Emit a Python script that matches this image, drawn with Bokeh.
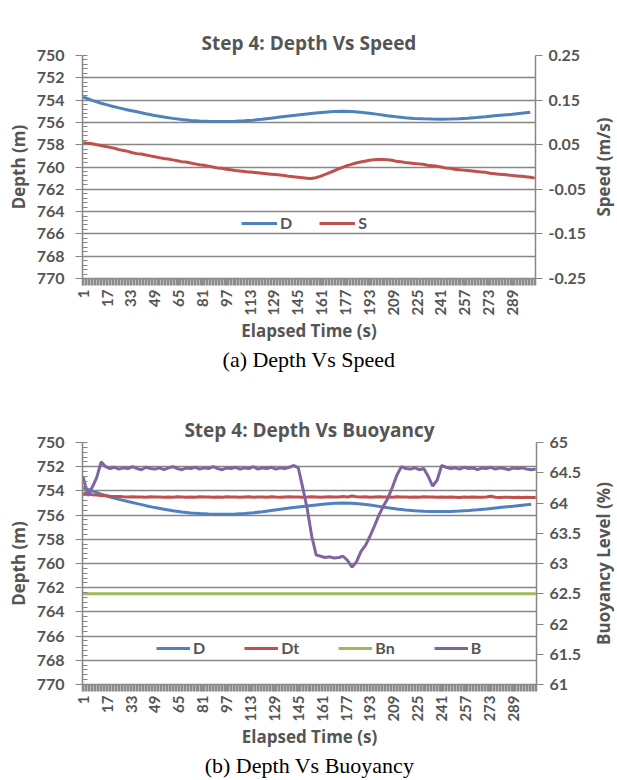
import math
from bokeh.plotting import figure
from bokeh.models import (Range1d, LinearAxis, FixedTicker, NumeralTickFormatter,
                          Legend, LegendItem, Title)
from bokeh.layouts import column, row
from bokeh.embed import file_html
from bokeh.resources import INLINE

# ---- axis definitions -------------------------------------------------------
N_CATEGORIES = 304                       # one category per elapsed second
elapsed_ticks = [1, 17, 33, 49, 65, 81, 97, 113, 129, 145, 161, 177,
                 193, 209, 225, 241, 257, 273, 289]
depth_ticks = [750, 752, 754, 756, 758, 760, 762, 764, 766, 768, 770]
speed_ticks = [-0.25, -0.15, -0.05, 0.05, 0.15, 0.25]
buoyancy_ticks = [61, 61.5, 62, 62.5, 63, 63.5, 64, 64.5, 65]

# ---- series -----------------------------------------------------------------
# depth D (m), sampled every 6 s
d_time = list(range(1, 302, 6))
d_depth = [753.72, 754.02, 754.28, 754.50, 754.70, 754.88, 755.05, 755.22, 755.38, 755.52,
           755.64, 755.74, 755.82, 755.87, 755.90, 755.92, 755.92, 755.90, 755.86, 755.80,
           755.72, 755.62, 755.52, 755.42, 755.33, 755.24, 755.16, 755.08, 755.03, 755.00,
           755.02, 755.08, 755.17, 755.28, 755.40, 755.50, 755.58, 755.64, 755.68, 755.70,
           755.71, 755.70, 755.67, 755.62, 755.56, 755.49, 755.41, 755.34, 755.27, 755.18,
           755.10]

# speed S (m/s), target depth Dt (m), buoyancy B (%) sampled every 3 s
s_time = list(range(1, 305, 3))
s_speed = [0.055, 0.053, 0.052, 0.050, 0.048, 0.046, 0.044, 0.042, 0.039, 0.037,
           0.035, 0.032, 0.030, 0.029, 0.027, 0.025, 0.023, 0.021, 0.019, 0.018,
           0.016, 0.014, 0.012, 0.011, 0.009, 0.007, 0.005, 0.004, 0.002, 0.000,
           -0.002, -0.003, -0.005, -0.006, -0.008, -0.009, -0.010, -0.011, -0.012, -0.013,
           -0.014, -0.015, -0.016, -0.017, -0.018, -0.019, -0.021, -0.022, -0.023, -0.024,
           -0.025, -0.026, -0.024, -0.021, -0.017, -0.013, -0.009, -0.005, -0.001, 0.003,
           0.006, 0.009, 0.011, 0.013, 0.015, 0.016, 0.017, 0.017, 0.016, 0.015,
           0.013, 0.012, 0.010, 0.009, 0.008, 0.007, 0.006, 0.004, 0.003, 0.002,
           0.000, -0.002, -0.003, -0.005, -0.006, -0.007, -0.008, -0.009, -0.010, -0.011,
           -0.012, -0.014, -0.015, -0.016, -0.017, -0.018, -0.019, -0.020, -0.021, -0.022,
           -0.023, -0.025]

dt_time = list(range(1, 305, 3))
dt_depth = [754.20, 754.26, 754.31, 754.34, 754.38, 754.41, 754.44, 754.46, 754.47, 754.49,
            754.50, 754.48, 754.51, 754.50, 754.52, 754.49, 754.51, 754.50, 754.53, 754.50,
            754.52, 754.49, 754.51, 754.53, 754.50, 754.52, 754.48, 754.51, 754.50, 754.52,
            754.50, 754.53, 754.49, 754.51, 754.50, 754.52, 754.50, 754.49, 754.52, 754.51,
            754.50, 754.53, 754.49, 754.51, 754.52, 754.50, 754.49, 754.51, 754.50, 754.52,
            754.51, 754.48, 754.50, 754.52, 754.50, 754.49, 754.51, 754.50, 754.47, 754.50,
            754.42, 754.48, 754.51, 754.49, 754.52, 754.50, 754.48, 754.51, 754.50, 754.52,
            754.49, 754.51, 754.50, 754.53, 754.50, 754.52, 754.49, 754.51, 754.50, 754.52,
            754.51, 754.53, 754.50, 754.52, 754.54, 754.51, 754.53, 754.50, 754.52, 754.53,
            754.51, 754.45, 754.52, 754.54, 754.52, 754.53, 754.55, 754.52, 754.54, 754.53,
            754.55, 754.54]

bn_time = [1, 304]
bn_level = [62.5, 62.5]

b_time = list(range(1, 305, 3))
b_level = [64.43, 64.12, 64.26, 64.42, 64.68, 64.60, 64.57, 64.59, 64.56, 64.58,
           64.57, 64.60, 64.57, 64.55, 64.59, 64.57, 64.56, 64.58, 64.55, 64.58,
           64.60, 64.57, 64.55, 64.58, 64.57, 64.59, 64.56, 64.58, 64.57, 64.60,
           64.57, 64.55, 64.58, 64.57, 64.59, 64.56, 64.58, 64.57, 64.60, 64.56,
           64.58, 64.57, 64.59, 64.56, 64.58, 64.57, 64.59, 64.62, 64.58, 64.25,
           63.90, 63.45, 63.14, 63.12, 63.10, 63.11, 63.09, 63.10, 63.12, 63.05,
           62.94, 63.03, 63.20, 63.30, 63.45, 63.62, 63.80, 63.95, 64.08, 64.26,
           64.46, 64.60, 64.57, 64.56, 64.58, 64.55, 64.57, 64.44, 64.28, 64.38,
           64.62, 64.59, 64.57, 64.58, 64.56, 64.59, 64.57, 64.58, 64.55, 64.58,
           64.57, 64.59, 64.56, 64.58, 64.57, 64.55, 64.58, 64.57, 64.58, 64.56,
           64.55, 64.56]

# ---- styling ----------------------------------------------------------------
TICK_FONT = "Lato"
LABEL_FONT = "Open Sans"
TEXT = "#555555"
GRID = "#868686"
BLUE, RED, GREEN, PURPLE = "#4F81BD", "#C0504D", "#9BBB59", "#8064A2"
LW = 3
WIDTH = 617
TITLE_STRIP = 28                 # narrow strip holding the right-hand axis title
BORDER_L, BORDER_R = 82, 81 - TITLE_STRIP


def style_axis_text(ax, size="16px"):
    ax.major_label_text_font = TICK_FONT
    ax.major_label_text_font_size = size
    ax.major_label_text_font_style = "bold"
    ax.major_label_text_color = TEXT
    ax.axis_label_text_font = LABEL_FONT
    ax.axis_label_text_font_size = "17px"
    ax.axis_label_text_font_style = "bold"
    ax.axis_label_text_color = TEXT
    ax.axis_line_color = GRID
    ax.axis_line_width = 1.5
    ax.major_tick_line_color = GRID


def make_chart(height, border_top, border_bottom, heading, heading_gap, caption,
               caption_standoff, right_range, right_ticks, right_format):
    p = figure(width=WIDTH - TITLE_STRIP, height=height, output_backend="svg",
               toolbar_location=None, title=heading,
               x_range=Range1d(0.5, N_CATEGORIES + 0.5), y_range=Range1d(770, 750),
               min_border_left=BORDER_L, min_border_right=BORDER_R,
               min_border_top=border_top, min_border_bottom=border_bottom)
    p.outline_line_color = None
    p.title.align = "center"
    p.title.text_font = LABEL_FONT
    p.title.text_font_size = "19px"
    p.title.text_font_style = "bold"
    p.title.text_color = TEXT
    p.title.standoff = 0

    # the figure's own axes, taken before any extra axis is added
    xa = p.below[0]
    ya = p.left[0]

    # blank top axis: keeps an empty gap between the plot area and the heading
    gap = LinearAxis(ticker=FixedTicker(ticks=[]), axis_line_color=None,
                     major_tick_line_color=None, minor_tick_line_color=None,
                     major_tick_in=0, major_tick_out=heading_gap,
                     minor_tick_in=0, minor_tick_out=0, major_label_standoff=0)
    p.add_layout(gap, "above")

    # time axis: one tick per second makes the dense band under the plot
    xa.ticker = FixedTicker(ticks=elapsed_ticks,
                            minor_ticks=[k + 0.5 for k in range(N_CATEGORIES + 1)])
    style_axis_text(xa, "15px")
    xa.major_label_orientation = math.pi / 2
    xa.major_tick_out = 7
    xa.major_tick_in = 0
    xa.major_tick_line_color = "#8c8c8c"
    xa.minor_tick_out = 7
    xa.minor_tick_in = 0
    xa.minor_tick_line_color = "#8c8c8c"
    xa.minor_tick_line_width = 1.6
    xa.major_label_standoff = 4
    xa.axis_label = "Elapsed Time (s)"
    xa.axis_label_standoff = 0

    # depth axis (reversed)
    depth_ticker = FixedTicker(ticks=depth_ticks,
                               minor_ticks=[750 + 0.4 * k for k in range(51)])
    ya.ticker = depth_ticker
    style_axis_text(ya)
    ya.major_tick_out = 7
    ya.major_tick_in = 0
    ya.minor_tick_in = 5
    ya.minor_tick_out = 0
    ya.minor_tick_line_color = GRID
    ya.major_label_standoff = 11
    ya.axis_label = "Depth (m)"
    ya.axis_label_standoff = 4

    p.xgrid.visible = False
    p.ygrid.ticker = depth_ticker
    p.ygrid.grid_line_color = GRID
    p.ygrid.grid_line_width = 1.5

    # secondary axis on the right
    p.extra_y_ranges = {"right": right_range}
    ra = LinearAxis(y_range_name="right", ticker=FixedTicker(ticks=right_ticks),
                    formatter=NumeralTickFormatter(format=right_format))
    style_axis_text(ra)
    ra.major_tick_out = 7
    ra.major_tick_in = 0
    ra.minor_tick_line_color = None
    ra.major_label_standoff = 6
    p.add_layout(ra, "right")

    p.add_layout(Title(text=caption, align="center", text_font="Liberation Serif",
                       text_font_size="22px", text_font_style="normal",
                       text_color="#000000", standoff=caption_standoff), "below")
    return p


def right_title_strip(height, border_top, border_bottom, right_range, text):
    """Narrow companion figure whose axis title reads bottom-to-top, centred
    on the same vertical extent as the chart's plot area."""
    s = figure(width=TITLE_STRIP, height=height, output_backend="svg",
               toolbar_location=None, x_axis_location=None,
               x_range=Range1d(0, 1), y_range=right_range,
               min_border_left=TITLE_STRIP - 1, min_border_right=0,
               min_border_top=border_top, min_border_bottom=border_bottom)
    s.outline_line_color = None
    s.grid.visible = False
    ax = s.left[0]
    ax.ticker = FixedTicker(ticks=[])
    ax.axis_line_color = None
    ax.major_tick_line_color = None
    ax.minor_tick_line_color = None
    ax.major_tick_out = 0
    ax.major_tick_in = 0
    ax.axis_label = text
    ax.axis_label_standoff = 3
    ax.axis_label_text_font = LABEL_FONT
    ax.axis_label_text_font_size = "17px"
    ax.axis_label_text_font_style = "bold"
    ax.axis_label_text_color = TEXT
    return s


def make_legend(items, x, y, glyph_w, spacing):
    return Legend(items=items, orientation="horizontal", location=(x, y),
                  glyph_width=glyph_w, glyph_height=14, label_standoff=3,
                  label_width=0, spacing=spacing, padding=0, margin=0,
                  border_line_color=None, background_fill_alpha=0,
                  label_text_font=TICK_FONT, label_text_font_size="16px",
                  label_text_font_style="bold", label_text_color=TEXT)


# ---- (a) depth vs speed -----------------------------------------------------
speed_range = Range1d(-0.25, 0.25)
pa = make_chart(380, 55, 102, "Step 4: Depth Vs Speed", 26, "(a) Depth Vs Speed", 0,
                speed_range, speed_ticks, "0.00")
ra_d = pa.line(d_time, d_depth, line_color=BLUE, line_width=LW)
ra_s = pa.line(s_time, s_speed, line_color=RED, line_width=LW, y_range_name="right")
pa.add_layout(make_legend([LegendItem(label="D", renderers=[ra_d]),
                           LegendItem(label="S", renderers=[ra_s])], 159, 46, 36, 27))
sa = right_title_strip(380, 55, 102, speed_range, "Speed (m/s)")

# ---- (b) depth vs buoyancy --------------------------------------------------
buoyancy_range = Range1d(61, 65)
pb = make_chart(400, 62, 96, "Step 4: Depth Vs Buoyancy", 28, "(b) Depth Vs Buoyancy", 0,
                buoyancy_range, buoyancy_ticks, "0.[0]")
rb_d = pb.line(d_time, d_depth, line_color=BLUE, line_width=LW)
rb_dt = pb.line(dt_time, dt_depth, line_color=RED, line_width=LW)
rb_bn = pb.line(bn_time, bn_level, line_color=GREEN, line_width=LW, y_range_name="right")
rb_b = pb.line(b_time, b_level, line_color=PURPLE, line_width=LW, y_range_name="right")
pb.add_layout(make_legend([LegendItem(label="D", renderers=[rb_d]),
                           LegendItem(label="Dt", renderers=[rb_dt]),
                           LegendItem(label="Bn", renderers=[rb_bn]),
                           LegendItem(label="B", renderers=[rb_b])], 74, 27, 34, 39))
sb = right_title_strip(400, 62, 96, buoyancy_range, "Buoyancy Level (%)")

layout = column(row(pa, sa), row(pb, sb))
open("out.html", "w").write(file_html(layout, INLINE))
